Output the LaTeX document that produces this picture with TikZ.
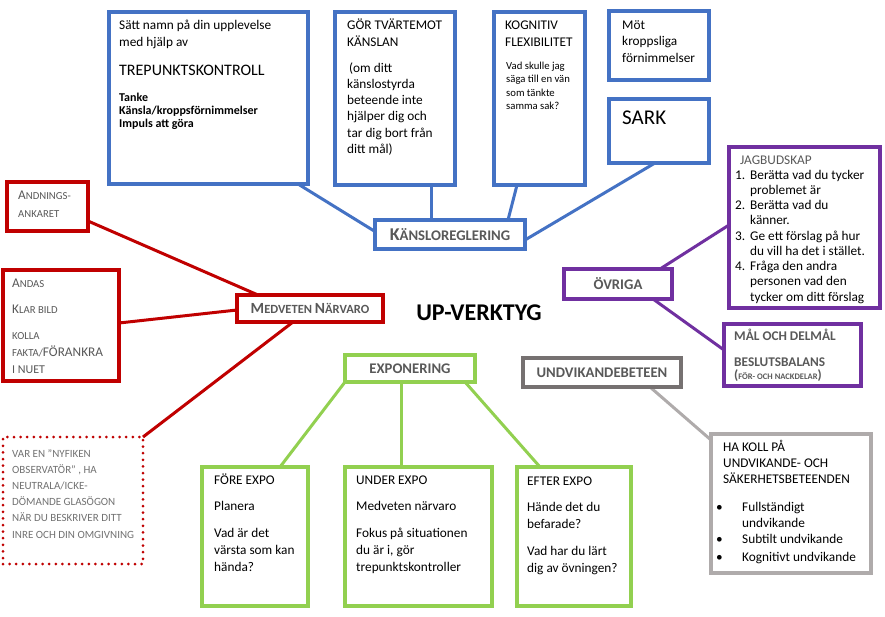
\documentclass[tikz,border=0pt]{standalone}
\usepackage{fontspec}
\setmainfont{Carlito}
\usetikzlibrary{backgrounds}
\definecolor{ublue}{HTML}{4472C4}
\definecolor{ured}{HTML}{C00000}
\definecolor{upurple}{HTML}{7030A0}
\definecolor{ugreen}{HTML}{92D050}
\definecolor{udgray}{HTML}{767171}
\definecolor{ulgray}{HTML}{AFABAB}
\definecolor{tgray}{HTML}{595959}
\newcommand\fsz[1]{\fontsize{#1}{#1}\selectfont}
% a block of left-aligned lines whose baseline is that of its first line
\newcommand\lines[1]{\begin{tabular}[t]{@{}l@{}}#1\end{tabular}}
\begin{document}
\begin{tikzpicture}[x=1pt,y=-1pt,
  frame/.style={draw, fill=white, line width=3.5pt, inner sep=0pt, outer sep=0pt, anchor=north west},
  bluebox/.style={frame, draw=ublue},
  redbox/.style={frame, draw=ured},
  purplebox/.style={frame, draw=upurple},
  greenbox/.style={frame, draw=ugreen},
  darkgraybox/.style={frame, draw=udgray},
  lightgraybox/.style={frame, draw=ulgray},
  dotbox/.style={frame, draw=ured, line width=3pt, line cap=round, dash pattern=on 0pt off 6.6pt},
  head/.style={text=tgray, font=\bfseries\fontsize{14.7}{16}\selectfont},
  txt/.style={anchor=base west, inner sep=0pt, font=\fontsize{13.3}{17}\selectfont},
  link/.style={line width=3pt}]
\useasboundingbox (0,0) rectangle (885,616);

% ---- Känsloreglering branch ----
\node[bluebox, minimum width=199pt, minimum height=172pt] (b1) at (109,12) {};
\node[bluebox, minimum width=120pt, minimum height=173pt] (b2) at (335,12) {};
\node[bluebox, minimum width=91pt, minimum height=173pt] (b3) at (494,12) {};
\node[bluebox, minimum width=100pt, minimum height=69pt] (b4) at (609,11) {};
\node[bluebox, minimum width=100pt, minimum height=64pt] (b5) at (609,99) {};
\node[bluebox, minimum width=150pt, minimum height=29pt, head] (kans) at (375,220)
  {{\fsz{18}K}{\fsz{14.7}ÄNSLOREGLERING}};

\node[txt] (b1a) at (119,29) {\lines{Sätt namn på din upplevelse\\med hjälp av}};
\node[txt, font=\fontsize{16}{18}\selectfont] (b1b) at (119,75) {TREPUNKTSKONTROLL};
\node[txt, font=\bfseries\fontsize{12}{13}\selectfont] (b1c) at (119,101)
  {\lines{Tanke\\Känsla/kroppsförnimmelser\\Impuls att göra}};

\node[txt] (b2a) at (347,29) {\lines{GÖR TVÄRTEMOT\\KÄNSLAN}};
\node[txt, font=\fontsize{13.3}{16.3}\selectfont] (b2b) at (347,72)
  {\lines{\hspace{2pt}(om ditt\\känslostyrda\\beteende inte\\hjälper dig och\\tar dig bort från\\ditt mål)}};

\node[txt] (b3a) at (505,29) {\lines{KOGNITIV\\FLEXIBILITET}};
\node[txt, font=\fontsize{10.7}{13.3}\selectfont] (b3b) at (506,69.5)
  {\lines{Vad skulle jag\\säga till en vän\\som tänkte\\samma sak?}};

\node[txt, font=\fontsize{13.3}{16.5}\selectfont] (b4a) at (622,29) {\lines{Möt\\kroppsliga\\förnimmelser}};
\node[txt, font=\fontsize{21}{24}\selectfont] (b5a) at (622,124) {SARK};

% ---- Medveten närvaro branch ----
\node[redbox, minimum width=81pt, minimum height=49pt] (andn) at (7,182) {};
\node[redbox, minimum width=116pt, minimum height=111pt] (andas) at (3,270) {};
\node[dotbox, minimum width=140pt, minimum height=127pt] (dot) at (3,437) {};
\node[redbox, minimum width=146pt, minimum height=27pt, head] (medv) at (237,295)
  {{\fsz{15.5}M}{\fsz{12.5}EDVETEN }{\fsz{15.5}N}{\fsz{12.5}ÄRVARO}};

\node[txt, text=tgray] (andnt) at (18,199) {\lines{{\fsz{13.3}A}{\fsz{10.7}NDNINGS-}\\[1pt]{\fsz{10.7}ANKARET}}};
\node[txt, text=tgray] (andast) at (12,287)
  {\lines{{\fsz{13.3}A}{\fsz{10.7}NDAS}\\[9pt]{\fsz{13.3}K}{\fsz{10.7}LAR BILD}\\[9pt]{\fsz{10.7}KOLLA}\\{\fsz{10.7}FAKTA/}FÖRANKRA\\{\fsz{12}I NUET}}};
\node[txt, text=tgray!85, font=\fontsize{11}{16.2}\selectfont] (dott) at (12,457)
  {\lines{VAR EN ”NYFIKEN\\OBSERVATÖR” , HA\\NEUTRALA/ICKE-\\DÖMANDE GLASÖGON\\NÄR DU BESKRIVER DITT\\INRE OCH DIN OMGIVNING}};

% ---- Övriga branch ----
\node[purplebox, minimum width=108pt, minimum height=30pt, head] (ovr) at (564,269) {ÖVRIGA};
\node[purplebox, minimum width=151pt, minimum height=161pt] (jag) at (729,147) {};
\node[purplebox, minimum width=137pt, minimum height=62pt] (mal) at (724,324) {};

\node[txt, text=tgray] (jagh) at (740,164) {JAGBUDSKAP};
\node[txt, font=\fontsize{13.3}{15.25}\selectfont] (jagl) at (735,179)
  {\lines{\makebox[15pt][l]{1.}Berätta vad du tycker\\\hspace*{15pt}problemet är\\
   \makebox[15pt][l]{2.}Berätta vad du\\\hspace*{15pt}känner.\\
   \makebox[15pt][l]{3.}Ge ett förslag på hur\\\hspace*{15pt}du vill ha det i stället.\\
   \makebox[15pt][l]{4.}Fråga den andra\\\hspace*{15pt}personen vad den\\\hspace*{15pt}tycker om ditt förslag}};
\node[txt, text=tgray, font=\bfseries\fontsize{13.3}{16}\selectfont] (malt) at (734,340) {MÅL OCH DELMÅL};
\node[txt, text=tgray, font=\bfseries\fontsize{13.3}{13}\selectfont] (balt) at (734,366)
  {\lines{BESLUTSBALANS\\({\fsz{8.5}FÖR- OCH NACKDELAR})}};

% ---- Undvikandebeteen branch ----
\node[darkgraybox, minimum width=158pt, minimum height=29pt, head] (undv) at (523,358) {UNDVIKANDEBETEEN};
\node[lightgraybox, minimum width=160pt, minimum height=139pt] (hak) at (711,434) {};
\node[txt, font=\fontsize{13.3}{16.4}\selectfont] (hakh) at (723,451)
  {\lines{HA KOLL PÅ\\UNDVIKANDE- OCH\\SÄKERHETSBETEENDEN}};
\node[txt, font=\fontsize{13.3}{16}\selectfont] (hakl) at (716,511)
  {\lines{\makebox[26pt][l]{\textbullet}Fullständigt\\\hspace*{26pt}undvikande\\
   \makebox[26pt][l]{\textbullet}Subtilt undvikande\\[2pt]
   \makebox[26pt][l]{\textbullet}Kognitivt undvikande}};

% ---- Exponering branch ----
\node[greenbox, minimum width=130pt, minimum height=27pt, head] (expo) at (345,355) {EXPONERING};
\node[greenbox, minimum width=106pt, minimum height=139pt] (fore) at (202,467) {};
\node[greenbox, minimum width=147pt, minimum height=139pt] (under) at (345,467) {};
\node[greenbox, minimum width=114pt, minimum height=139pt] (efter) at (517,467) {};

\node[txt] (foret) at (214,484) {\lines{FÖRE EXPO\\[9pt]Planera\\[10pt]Vad är det\\värsta som kan\\hända?}};
\node[txt] (undert) at (356,484) {\lines{UNDER EXPO\\[9pt]Medveten närvaro\\[10pt]Fokus på situationen\\du är i, gör\\trepunktskontroller}};
\node[txt] (eftert) at (527,485) {\lines{EFTER EXPO\\[9pt]Hände det du\\befarade?\\[10pt]Vad har du lärt\\dig av övningen?}};

% ---- centre title ----
\node[font=\bfseries\fontsize{24}{26}\selectfont, inner sep=0pt] (up) at (479,313) {UP-VERKTYG};

% ---- connectors ----
\begin{scope}[on background layer]
  \draw[link, ublue] ([xshift=-10pt]b1.south east) -- ([yshift=3pt]kans.west);
  \draw[link, ublue] ([xshift=36pt]b2.south) -- ([xshift=-19pt]kans.north);
  \draw[link, ublue] ([xshift=-22.5pt]b3.south) -- ([xshift=58pt]kans.north);
  \draw[link, ublue] ([xshift=-4pt]b5.south) -- ([yshift=-5.5pt]kans.east);
  \draw[link, ured] ([yshift=-14.5pt]andn.east) -- ([xshift=-52pt]medv.north);
  \draw[link, ured] ([yshift=2.5pt]andas.east) -- ([yshift=-1.5pt]medv.west);
  \draw[link, ured] ([xshift=-17pt]medv.south) -- (dot.north east);
  \draw[link, upurple] ([xshift=42pt]ovr.north) -- ([yshift=2.5pt]jag.west);
  \draw[link, upurple] ([xshift=35pt]ovr.south) -- ([yshift=5pt]mal.west);
  \draw[link, ulgray] ([xshift=48pt]undv.south) -- ([yshift=-6pt]hak.north west);
  \draw[link, ugreen] (expo.south west) -- ([xshift=25pt]fore.north);
  \draw[link, ugreen] ([xshift=-9pt]expo.south) -- ([xshift=-17.5pt]under.north);
  \draw[link, ugreen] ([xshift=-10pt]expo.south east) -- ([xshift=-34pt]efter.north);
\end{scope}
\end{tikzpicture}
\end{document}
